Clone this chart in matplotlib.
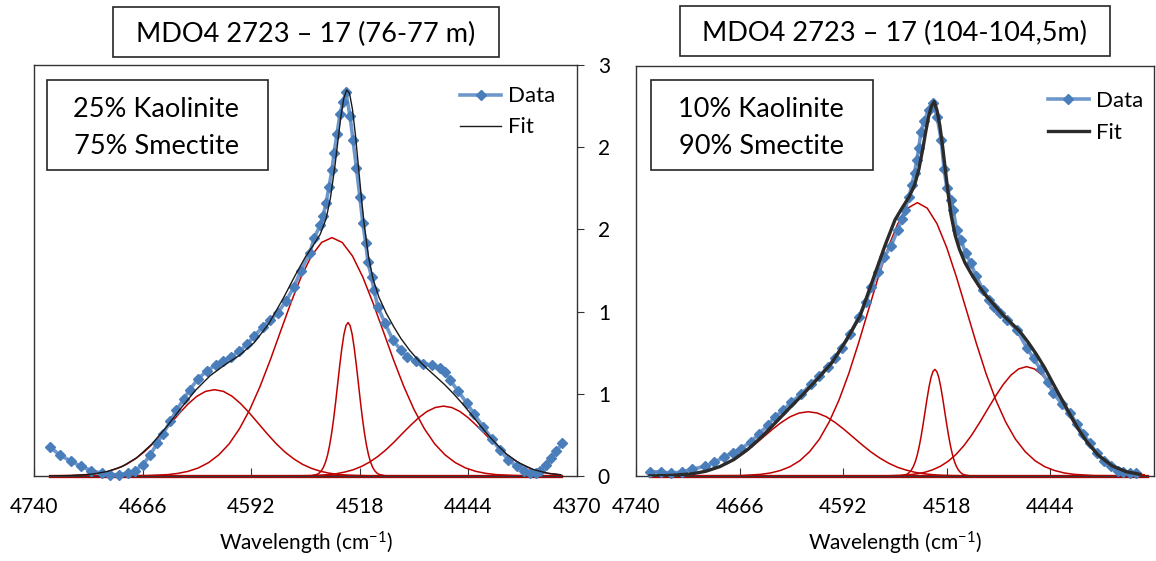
import matplotlib
matplotlib.use("Agg")
import matplotlib.pyplot as plt
from matplotlib.patches import Rectangle

plt.rcParams['font.family'] = ['Lato', 'DejaVu Sans']

# ---- left sample: MDO4 2723-17 (76-77 m) ----
title_l = "MDO4 2723 \u2013 17 (76-77 m)"
mix_l = ["25% Kaolinite", "75% Smectite"]

data_x_l = [4729, 4722, 4715, 4708, 4701, 4694, 4688, 4682, 4676, 4671, 4666, 4661, 4656, 4652, 4647, 4643,
            4638, 4634, 4628, 4622, 4616, 4611, 4606, 4600, 4595, 4590, 4584, 4579, 4574, 4568, 4563, 4558,
            4552, 4549, 4545, 4543, 4541, 4539, 4537, 4535.5, 4533.5, 4531.5, 4529.5, 4527.5, 4524.7, 4522.6,
            4520.3, 4518, 4516, 4514, 4512.4, 4510, 4508.4, 4505.6, 4501, 4495.4, 4490, 4486, 4480, 4475,
            4469, 4463.4, 4460, 4456.5, 4451, 4445, 4440, 4434, 4428, 4422.5, 4417, 4411, 4406, 4402, 4398,
            4395, 4391, 4388, 4384, 4380]
data_y_l = [0.21, 0.15, 0.11, 0.07, 0.04, 0.02, 0.01, 0.01, 0.02, 0.04, 0.08, 0.15, 0.24, 0.31, 0.40, 0.48,
            0.56, 0.63, 0.71, 0.77, 0.81, 0.84, 0.87, 0.91, 0.96, 1.02, 1.09, 1.14, 1.19, 1.28, 1.38, 1.50,
            1.63, 1.74, 1.83, 1.90, 1.99, 2.11, 2.23, 2.36, 2.50, 2.64, 2.73, 2.80, 2.63, 2.45,
            2.25, 2.04, 1.85, 1.70, 1.56, 1.45, 1.36, 1.23, 1.12, 0.99, 0.92, 0.87, 0.84, 0.82,
            0.81, 0.79, 0.76, 0.70, 0.62, 0.53, 0.45, 0.36, 0.27, 0.19, 0.12, 0.07, 0.04, 0.02, 0.02,
            0.04, 0.08, 0.13, 0.18, 0.24]

fit_x_l = [4729, 4715, 4700, 4690, 4680, 4670, 4660, 4650, 4640, 4630, 4620, 4610, 4600, 4590, 4580, 4570,
           4562, 4555, 4550, 4545, 4541, 4538, 4535, 4533, 4531, 4529, 4527, 4525, 4523, 4521, 4519, 4517,
           4515, 4512, 4509, 4505, 4500, 4495, 4490, 4484, 4478, 4472, 4466, 4460, 4454, 4448, 4442, 4436,
           4430, 4424, 4418, 4410, 4400, 4390, 4381]
fit_y_l = [0.0, 0.003, 0.014, 0.033, 0.069, 0.133, 0.230, 0.354, 0.493, 0.625, 0.732, 0.811, 0.881, 0.973,
           1.112, 1.300, 1.465, 1.600, 1.679, 1.764, 1.876, 2.030, 2.258, 2.439, 2.614, 2.753, 2.818, 2.793,
           2.677, 2.491, 2.267, 2.040, 1.835, 1.597, 1.439, 1.306, 1.189, 1.092, 1.004, 0.917, 0.844, 0.782,
           0.724, 0.665, 0.599, 0.527, 0.449, 0.369, 0.292, 0.223, 0.160, 0.099, 0.048, 0.020, 0.009]

# fitted bands (left)
band1_x_l = [4729, 4713, 4707, 4701, 4695, 4689, 4683, 4677, 4671, 4665, 4659, 4653, 4647, 4641, 4635, 4629,
             4623, 4617, 4611, 4605, 4599, 4593, 4587, 4581, 4575, 4569, 4563, 4557, 4551, 4545, 4539, 4533,
             4527, 4521, 4509, 4381]
band1_y_l = [0.001, 0.004, 0.007, 0.012, 0.021, 0.035, 0.056, 0.085, 0.125, 0.175, 0.236, 0.307, 0.382, 0.457,
             0.526, 0.582, 0.618, 0.630, 0.618, 0.582, 0.526, 0.457, 0.382, 0.307, 0.236, 0.175, 0.125, 0.085,
             0.056, 0.035, 0.021, 0.012, 0.007, 0.004, 0.001, 0.0]
band2_x_l = [4729, 4663, 4649, 4642, 4635, 4628, 4621, 4614, 4607, 4600, 4593, 4586, 4579, 4572, 4565, 4558,
             4551, 4544, 4537, 4530, 4523, 4516, 4509, 4502, 4495, 4488, 4481, 4474, 4467, 4460, 4453, 4446,
             4439, 4432, 4425, 4411, 4381]
band2_y_l = [0.0, 0.003, 0.010, 0.019, 0.034, 0.059, 0.098, 0.155, 0.235, 0.345, 0.484, 0.653, 0.847, 1.056,
             1.263, 1.453, 1.606, 1.705, 1.740, 1.705, 1.606, 1.453, 1.263, 1.056, 0.847, 0.653, 0.484, 0.345,
             0.235, 0.155, 0.098, 0.059, 0.034, 0.019, 0.010, 0.003, 0.0]
band3_x_l = [4729, 4551.2, 4547, 4545.6, 4544.2, 4542.8, 4541.4, 4540, 4538.6, 4537.2, 4535.8, 4534.4, 4533,
             4531.6, 4530.2, 4528.8, 4527.4, 4526, 4524.6, 4523.2, 4521.8, 4520.4, 4519, 4517.6, 4516.2,
             4514.8, 4513.4, 4512, 4510.6, 4509.2, 4507.8, 4506.4, 4505, 4500.8, 4381]
band3_y_l = [0.0, 0.002, 0.012, 0.022, 0.038, 0.063, 0.100, 0.151, 0.222, 0.311, 0.420, 0.545, 0.680, 0.813,
             0.935, 1.034, 1.098, 1.120, 1.098, 1.034, 0.935, 0.813, 0.680, 0.545, 0.420, 0.311, 0.222, 0.151,
             0.100, 0.063, 0.038, 0.022, 0.012, 0.002, 0.0]
band4_x_l = [4729, 4561.8, 4550.6, 4545, 4539.4, 4533.8, 4528.2, 4522.6, 4517, 4511.4, 4505.8, 4500.2, 4494.6,
             4489, 4483.4, 4477.8, 4472.2, 4466.6, 4461, 4455.4, 4449.8, 4444.2, 4438.6, 4433, 4427.4, 4421.8,
             4416.2, 4410.6, 4405, 4399.4, 4393.8, 4388.2, 4382.6]
band4_y_l = [0.0, 0.001, 0.003, 0.006, 0.010, 0.017, 0.029, 0.045, 0.069, 0.101, 0.142, 0.191, 0.248, 0.310,
             0.370, 0.426, 0.471, 0.500, 0.510, 0.500, 0.471, 0.426, 0.370, 0.310, 0.248, 0.191, 0.142, 0.101,
             0.069, 0.045, 0.029, 0.017, 0.010]
base_x_l = [4729, 4381]
base_y_l = [0.0, 0.0]

# ---- right sample: MDO4 2723-17 (104-104,5 m) ----
title_r = "MDO4 2723 \u2013 17 (104-104,5m)"
mix_r = ["10% Kaolinite", "90% Smectite"]

data_x_r = [4730, 4722, 4715, 4707, 4700, 4691, 4684, 4677, 4671, 4665, 4658, 4652, 4646, 4641, 4635, 4629,
            4622, 4615, 4609, 4603, 4598, 4593, 4587, 4581, 4576, 4572, 4567, 4563, 4558, 4553, 4550, 4548,
            4545, 4543, 4541, 4539.5, 4538, 4536.5, 4534, 4531, 4528, 4525, 4522, 4520, 4518, 4515, 4513.5,
            4511, 4508, 4504.5, 4501, 4497, 4492, 4488, 4484.5, 4480, 4475, 4468, 4461, 4456, 4451, 4446,
            4442, 4436, 4430, 4425, 4420.5, 4416, 4411, 4406, 4401, 4396, 4392, 4387, 4383]
data_y_r = [0.03, 0.03, 0.02, 0.03, 0.05, 0.07, 0.10, 0.14, 0.17, 0.20, 0.25, 0.31, 0.37, 0.43, 0.48, 0.54,
            0.60, 0.67, 0.73, 0.80, 0.86, 0.94, 1.04, 1.16, 1.27, 1.38, 1.49, 1.60, 1.68, 1.80, 1.88, 1.95,
            2.04, 2.13, 2.22, 2.31, 2.40, 2.52, 2.60, 2.68, 2.73, 2.63, 2.46, 2.25, 2.11, 2.02, 1.95,
            1.80, 1.73, 1.63, 1.56, 1.46, 1.36, 1.29, 1.24, 1.19, 1.14, 1.07, 0.94, 0.86, 0.78, 0.69,
            0.61, 0.53, 0.46, 0.38, 0.31, 0.24, 0.17, 0.11, 0.07, 0.04, 0.03, 0.02, 0.02]

fit_x_r = [4730, 4715, 4700, 4690, 4680, 4670, 4660, 4650, 4640, 4630, 4620, 4610, 4600, 4590, 4580, 4570,
           4562, 4555, 4550, 4545, 4541, 4538, 4535, 4533, 4531, 4529, 4527, 4525, 4523, 4521, 4519, 4517,
           4515, 4512, 4509, 4505, 4500, 4495, 4490, 4484, 4478, 4472, 4466, 4460, 4454, 4448, 4442, 4436,
           4430, 4424, 4418, 4410, 4400, 4390, 4380]
fit_y_r = [0.001, 0.004, 0.016, 0.035, 0.069, 0.121, 0.196, 0.289, 0.394, 0.501, 0.605, 0.714, 0.830, 0.990,
           1.170, 1.460, 1.690, 1.874, 1.960, 2.041, 2.130, 2.242, 2.402, 2.522, 2.630, 2.705, 2.740, 2.675,
           2.566, 2.412, 2.236, 2.064, 1.912, 1.760, 1.660, 1.560, 1.470, 1.390, 1.320, 1.250, 1.180, 1.120,
           1.060, 0.980, 0.890, 0.790, 0.675, 0.563, 0.450, 0.343, 0.251, 0.154, 0.075, 0.032, 0.012]

band1_x_r = [4730, 4719.4, 4713, 4706.6, 4700.2, 4693.8, 4687.4, 4681, 4674.6, 4668.2, 4661.8, 4655.4, 4649,
             4642.6, 4636.2, 4629.8, 4623.4, 4617, 4610.6, 4604.2, 4597.8, 4591.4, 4585, 4578.6, 4572.2,
             4565.8, 4559.4, 4553, 4546.6, 4540.2, 4533.8, 4527.4, 4521, 4514.6, 4501.8, 4375]
band1_y_r = [0.001, 0.003, 0.005, 0.009, 0.016, 0.026, 0.042, 0.063, 0.093, 0.131, 0.176, 0.229, 0.285, 0.341,
             0.392, 0.434, 0.461, 0.470, 0.461, 0.434, 0.392, 0.341, 0.285, 0.229, 0.176, 0.131, 0.093, 0.063,
             0.042, 0.026, 0.016, 0.009, 0.005, 0.003, 0.001, 0.0]
band2_x_r = [4730, 4665, 4651, 4644, 4637, 4630, 4623, 4616, 4609, 4602, 4595, 4588, 4581, 4574, 4567, 4560,
             4553, 4546, 4539, 4532, 4525, 4518, 4511, 4504, 4497, 4490, 4483, 4476, 4469, 4462, 4455, 4448,
             4441, 4434, 4427, 4413, 4375]
band2_y_r = [0.0, 0.003, 0.012, 0.022, 0.040, 0.068, 0.112, 0.178, 0.270, 0.396, 0.556, 0.750, 0.974, 1.214,
             1.452, 1.670, 1.846, 1.960, 2.000, 1.960, 1.846, 1.670, 1.452, 1.214, 0.974, 0.750, 0.556, 0.396,
             0.270, 0.178, 0.112, 0.068, 0.040, 0.022, 0.012, 0.003, 0.0]
band3_x_r = [4730, 4551.7, 4547.5, 4546.1, 4544.7, 4543.3, 4541.9, 4540.5, 4539.1, 4537.7, 4536.3, 4534.9,
             4533.5, 4532.1, 4530.7, 4529.3, 4527.9, 4526.5, 4525.1, 4523.7, 4522.3, 4520.9, 4519.5, 4518.1,
             4516.7, 4515.3, 4513.9, 4512.5, 4511.1, 4509.7, 4508.3, 4506.9, 4505.5, 4501.3, 4375]
band3_y_r = [0.0, 0.001, 0.009, 0.015, 0.027, 0.044, 0.069, 0.105, 0.154, 0.217, 0.293, 0.380, 0.473, 0.566,
             0.651, 0.720, 0.764, 0.780, 0.764, 0.720, 0.651, 0.566, 0.473, 0.380, 0.293, 0.217, 0.154, 0.105,
             0.069, 0.044, 0.027, 0.015, 0.009, 0.001, 0.0]
band4_x_r = [4730, 4561.8, 4550.6, 4545, 4539.4, 4533.8, 4528.2, 4522.6, 4517, 4511.4, 4505.8, 4500.2, 4494.6,
             4489, 4483.4, 4477.8, 4472.2, 4466.6, 4461, 4455.4, 4449.8, 4444.2, 4438.6, 4433, 4427.4, 4421.8,
             4416.2, 4410.6, 4405, 4399.4, 4393.8, 4388.2, 4382.6, 4377]
band4_y_r = [0.0, 0.001, 0.005, 0.009, 0.016, 0.027, 0.045, 0.071, 0.108, 0.158, 0.222, 0.300, 0.390, 0.486,
             0.581, 0.668, 0.738, 0.784, 0.800, 0.784, 0.738, 0.668, 0.581, 0.486, 0.390, 0.300, 0.222, 0.158,
             0.108, 0.071, 0.045, 0.027, 0.016, 0.009]
base_x_r = [4730, 4375]
base_y_r = [0.0, 0.0]

# axis ticks
xticks_l = [4740, 4666, 4592, 4518, 4444, 4370]
xticks_r = [4740, 4666, 4592, 4518, 4444]
yticks = [0, 0.6, 1.2, 1.8, 2.4, 3.0]
ytick_labels = ["0", "1", "1", "2", "2", "3"]

W, H = 1156, 561
BLUE_LINE = '#6E98CC'
BLUE_MARK = '#4A7EBB'
RED = '#C00000'
EDGE = '#333333'


def fbox(fig, x0, y0, x1, y1):
    # rectangle given in pixel coords from the top left
    fig.patches.append(Rectangle((x0 / W, 1 - y1 / H), (x1 - x0) / W, (y1 - y0) / H,
                                 transform=fig.transFigure, fill=False, ec='#262626', lw=1.2, zorder=5))


def ftext(fig, x, y, s, size):
    fig.text(x / W, 1 - y / H, s, ha='center', va='baseline', fontsize=size, color='black')


def panel(ax, dx, dy, fx, fy, bands, bx, by, fit_lw, fit_color):
    for x, y in bands:
        ax.plot(x, y, color=RED, lw=1.1, zorder=2)
    ax.plot(bx, by, color=RED, lw=2.4, zorder=2.5, clip_on=False)
    ax.plot(dx, dy, color=BLUE_LINE, lw=2.6, marker='D', ms=5.2, mfc=BLUE_MARK, mec=BLUE_MARK,
            zorder=3, clip_on=False, label='Data')
    ax.plot(fx, fy, color=fit_color, lw=fit_lw, zorder=4, label='Fit')
    ax.set_xlim(4740, 4370)
    ax.set_ylim(0, 3)
    for sp in ax.spines.values():
        sp.set_color(EDGE)
        sp.set_linewidth(1.0)
    ax.set_xlabel('Wavelength (cm$\\mathregular{^{-1}}$)', fontsize=15, labelpad=9)
    ax.tick_params(axis='x', direction='in', length=6, pad=15, labelsize=15, color=EDGE)


fig = plt.figure(figsize=(W / 100, H / 100), dpi=100)

ax1 = fig.add_axes([34 / W, 1 - 476 / H, 543 / W, 411 / H])
panel(ax1, data_x_l, data_y_l, fit_x_l, fit_y_l,
      [(band1_x_l, band1_y_l), (band2_x_l, band2_y_l), (band3_x_l, band3_y_l), (band4_x_l, band4_y_l)],
      base_x_l, base_y_l, 1.0, '#1a1a1a')
ax1.set_xticks(xticks_l)
ax1.set_xticklabels([str(v) for v in xticks_l])
ax1.yaxis.tick_right()
ax1.set_yticks(yticks)
ax1.set_yticklabels(ytick_labels)
ax1.tick_params(axis='y', direction='out', length=5, pad=10, labelsize=15, color=EDGE)
ax1.legend(loc='upper left', bbox_to_anchor=(0.785, 0.948), frameon=False, fontsize=16,
           handlelength=1.85, handletextpad=0.3, labelspacing=0.5, borderpad=0, borderaxespad=0,
           numpoints=1)

ax2 = fig.add_axes([636 / W, 1 - 476 / H, 518 / W, 410 / H])
panel(ax2, data_x_r, data_y_r, fit_x_r, fit_y_r,
      [(band1_x_r, band1_y_r), (band2_x_r, band2_y_r), (band3_x_r, band3_y_r), (band4_x_r, band4_y_r)],
      base_x_r, base_y_r, 2.4, '#2b2b2b')
ax2.set_xticks(xticks_r)
ax2.set_xticklabels([str(v) for v in xticks_r])
ax2.set_yticks([])
ax2.legend(loc='upper left', bbox_to_anchor=(0.795, 0.94), frameon=False, fontsize=16,
           handlelength=1.85, handletextpad=0.3, labelspacing=0.55, borderpad=0, borderaxespad=0,
           numpoints=1)

# title boxes
fbox(fig, 113, 7, 499, 57)
ftext(fig, 306, 42.5, title_l, 19.5)
fbox(fig, 680, 6, 1110, 56)
ftext(fig, 895, 41.5, title_r, 19.5)

# composition boxes
fbox(fig, 46.5, 79.5, 267.5, 169.5)
ftext(fig, 156, 117.3, mix_l[0], 19.5)
ftext(fig, 156, 154.3, mix_l[1], 19.5)
fbox(fig, 651, 79.5, 872.5, 169.5)
ftext(fig, 761, 117.3, mix_r[0], 19.5)
ftext(fig, 761, 154.3, mix_r[1], 19.5)

fig.savefig('out.png', dpi=100)
